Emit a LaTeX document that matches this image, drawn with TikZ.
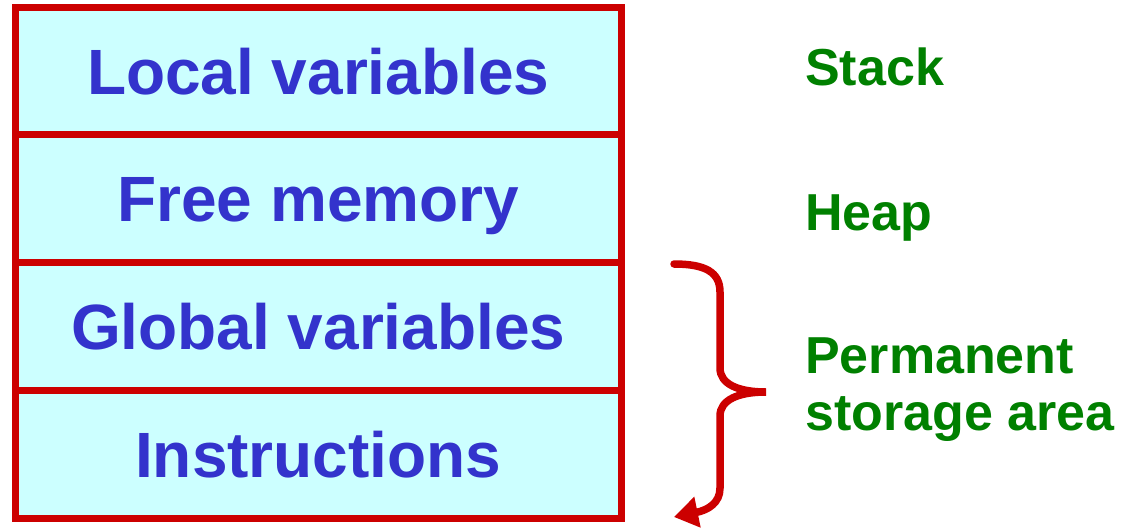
\documentclass[tikz,border=0pt]{standalone}
\usepackage{fontspec}
\setmainfont{Liberation Sans}
\usetikzlibrary{arrows.meta}
\definecolor{boxred}{HTML}{CC0000}
\definecolor{boxfill}{HTML}{CCFFFF}
\definecolor{boxtext}{HTML}{3333CC}
\definecolor{labgreen}{HTML}{008000}
\tikzset{
  memrow/.style={draw=boxred, fill=boxfill, line width=7pt, rectangle,
    minimum width=605.5pt, minimum height=128pt, inner sep=0pt,
    text height=46pt, text depth=0pt, text=boxtext,
    font=\bfseries\fontsize{64}{70}\selectfont},
  seglabel/.style={anchor=base west, text=labgreen, inner sep=0pt, align=left,
    font=\bfseries\fontsize{52}{57}\selectfont},
  bracepath/.style={draw=boxred, line width=7.5pt, line cap=round,
    -{Triangle[length=24pt,width=30pt]}}
}
\begin{document}
\begin{tikzpicture}[x=1pt,y=-1pt]
\useasboundingbox (0,0) rectangle (1128,528);
\node[memrow] (local) at (318.25,71) {Local variables};
\node[memrow] (free) at (318.25,198.5) {Free memory};
\node[memrow] (global) at (318.25,326) {Global variables};
\node[memrow] (instr) at (318.25,454) {Instructions};
\node[seglabel] (stack) at (805,85) {Stack};
\node[seglabel] (heap) at (805,230) {Heap};
\node[seglabel] (perm) at (805,430) {Permanent\\storage area};
\coordinate (btop) at (674,264);
\coordinate (btip) at (766,392);
\coordinate (bend) at (674,517);
\draw[bracepath] (btop) .. controls (705,264) and (720,272) .. (720,292)
  -- (720,368) .. controls (720,384) and (738,392) .. (btip)
  .. controls (738,392) and (720,400) .. (720,416)
  -- (720,488) .. controls (720,503) and (708,510) .. (bend);
\end{tikzpicture}
\end{document}
